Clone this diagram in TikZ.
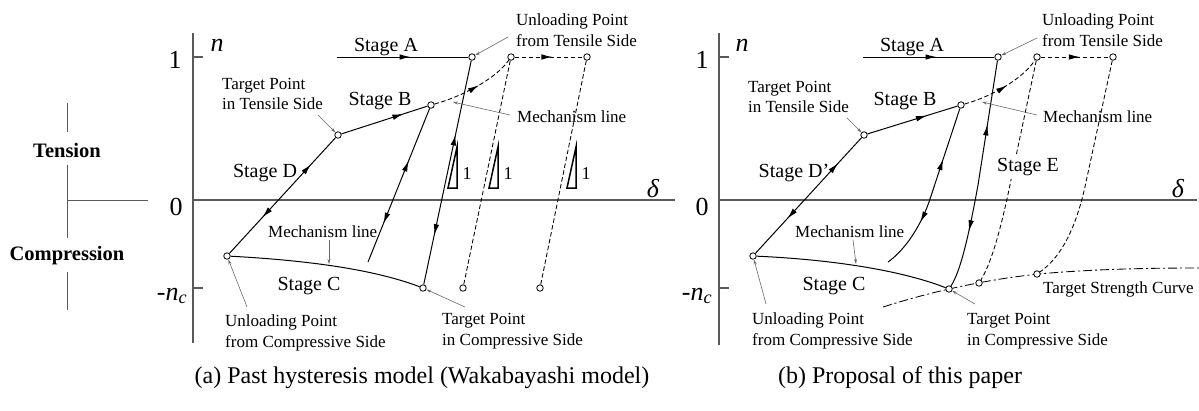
\documentclass[tikz,border=0pt]{standalone}
\usepackage{fontspec}
\setmainfont{Liberation Serif}
\usepackage{xcolor}
\usetikzlibrary{arrows.meta, decorations.markings}
\definecolor{axisgray}{RGB}{90,90,90}
\definecolor{leadgray}{RGB}{105,105,105}
\tikzset{
  axis/.style={axisgray, line width=1.3pt},
  curve/.style={black, line width=1pt},
  dashcurve/.style={black, line width=0.85pt, dash pattern=on 4.5pt off 2.5pt},
  strength/.style={black, line width=0.85pt, dash pattern=on 9pt off 3pt on 2pt off 3pt},
  leader/.style={leadgray, line width=0.6pt, -{Stealth[length=5pt,width=3pt]}},
  opendot/.style={circle, draw, line width=0.8pt, fill=white, inner sep=0pt, minimum size=6.5pt},
  fwd/.style={postaction={decorate, decoration={markings,
      mark=at position #1 with {\arrow{Latex[length=11pt,width=5.5pt]}}}}},
  twoway/.style 2 args={postaction={decorate, decoration={markings,
      mark=at position #1 with {\arrowreversed{Latex[length=11pt,width=5.5pt]}},
      mark=at position #2 with {\arrow{Latex[length=11pt,width=5.5pt]}}}}},
  stagelbl/.style={font=\fontsize{20}{24}\selectfont, inner sep=1pt},
  notelbl/.style={font=\fontsize{17}{20.5}\selectfont, align=left, anchor=west, inner sep=0pt},
  ticklbl/.style={font=\fontsize{26}{30}\selectfont, inner sep=0pt},
  varlbl/.style={font=\fontsize{26}{30}\selectfont\itshape, inner sep=0pt},
  sidelbl/.style={font=\fontsize{20.5}{24}\selectfont\bfseries, inner sep=0pt},
  slopelbl/.style={font=\fontsize{18}{20}\selectfont, inner sep=0pt},
  caplbl/.style={font=\fontsize{24}{28}\selectfont, inner sep=0pt}
}
\begin{document}
\begin{tikzpicture}[x=1pt, y=-1pt]
\useasboundingbox (0,0) rectangle (1199,410);

\draw[axisgray, line width=1pt] (67,103) -- (67,132) (67,165) -- (67,238) (67,272) -- (67,310) (67,200) -- (148,200);
\node[sidelbl] (tens) at (67,150) {Tension};
\node[sidelbl] (comp) at (67,256) {Compression};

\draw[axis] (193,33) -- (193,343);
\draw[axis] (193,200) -- (675,200);
\draw[axis] (193,57) -- (203,57) (193,288) -- (203,288);
\node[ticklbl] (one1) at (175,60) {1};
\node[ticklbl] (zero1) at (176,207) {0};
\node[ticklbl] (nc1) at (172,296) {-\textit{n}\textsubscript{\textit{c}}};
\node[varlbl] (n1) at (217,45) {n};
\node[varlbl] (del1) at (653,189) {δ};

\node[opendot] (u1) at (472,57) {};
\node[opendot] (m1) at (511,57) {};
\node[opendot] (m2) at (587,57) {};
\node[opendot] (t1) at (338,135) {};
\node[opendot] (b1) at (431,105) {};
\node[opendot] (uc1) at (227,256) {};
\node[opendot] (tc1) at (423,288) {};
\node[opendot] (d1) at (463,288) {};
\node[opendot] (d2) at (540,288) {};
\coordinate (a1) at (337,57);
\coordinate (r1) at (368,262);

\draw[curve, fwd=0.56] (a1) -- (u1);
\draw[curve, twoway={0.33}{0.78}] (u1) -- (tc1);
\draw[curve, fwd=0.72] (t1) -- (b1);
\draw[curve, twoway={0.34}{0.75}] (b1) -- (r1);
\draw[curve, twoway={0.31}{0.77}] (uc1) -- (t1);
\draw[curve] (uc1) .. controls (300,260) and (370,268) .. (tc1);
\draw[dashcurve, fwd=0.55] (b1) .. controls (460,97) and (495,80) .. (m1);
\draw[dashcurve, fwd=0.55] (m1) -- (m2);
\draw[dashcurve] (m1) -- (d1);
\draw[dashcurve] (m2) -- (d2);

\foreach \x/\k in {448/1, 489/2, 567/3}{
  \draw[line width=1.5pt] (\x,188) -- (\x+9,188) -- (\x+9,147) -- cycle;
  \node[slopelbl] (slope\k) at (\x+19,174) {1};
}

\node[stagelbl] (sa1) at (386,47) {Stage A};
\node[stagelbl] (sb1) at (380,101) {Stage B};
\node[stagelbl] (sd1) at (265,173) {Stage D};
\node[stagelbl] (sc1) at (309,286) {Stage C};

\node[notelbl] (ulab1) at (516,30) {Unloading Point\\from Tensile Side};
\coordinate (ulab1tip) at (508,37);
\draw[leader] (ulab1tip) -- (u1);
\node[notelbl] (mlab1) at (517,117) {Mechanism line};
\coordinate (mlab1s) at (510,115);
\coordinate (mlab1e) at (453,102);
\draw[leader] (mlab1s) -- (mlab1e);
\node[notelbl] (tlab1) at (222,94) {Target Point\\in Tensile Side};
\coordinate (tlab1tip) at (318,115);
\draw[leader] (tlab1tip) -- (t1);
\node[notelbl] (clab1) at (268,232) {Mechanism line};
\coordinate (clab1s) at (329,240);
\coordinate (clab1e) at (329,264);
\draw[leader] (clab1s) -- (clab1e);
\node[notelbl] (uclab1) at (225,333) {Unloading Point\\from Compressive Side};
\coordinate (uclab1tip) at (247,307);
\draw[leader] (uclab1tip) -- (uc1);
\node[notelbl] (tclab1) at (442,331) {Target Point\\in Compressive Side};
\coordinate (tclab1tip) at (465,307);
\draw[leader] (tclab1tip) -- (tc1);

\draw[axis] (719,33) -- (719,345);
\draw[axis] (719,200) -- (1197,200);
\draw[axis] (719,57) -- (729,57) (719,288) -- (729,288);
\node[ticklbl] (one2) at (702,60) {1};
\node[ticklbl] (zero2) at (702,207) {0};
\node[ticklbl] (nc2) at (697,296) {-\textit{n}\textsubscript{\textit{c}}};
\node[varlbl] (n2) at (742,45) {n};
\node[varlbl] (del2) at (1178,189) {δ};

\coordinate (s0) at (883,307);
\coordinate (s1) at (1050,273);
\coordinate (s2) at (1199,268);
\draw[strength] (s0) .. controls (930,292) and (990,278) .. (s1) .. controls (1100,269) and (1150,268) .. (s2);

\node[opendot] (u2) at (998,57) {};
\node[opendot] (m3) at (1037,57) {};
\node[opendot] (m4) at (1113,57) {};
\node[opendot] (t2) at (864,135) {};
\node[opendot] (b2) at (961,105) {};
\node[opendot] (uc2) at (753,256) {};
\node[opendot] (tc2) at (949,289) {};
\node[opendot] (e1) at (979,283) {};
\node[opendot] (e2) at (1037,274) {};
\coordinate (a2) at (863,57);
\coordinate (k1) at (978,185);
\coordinate (k2) at (931,196);
\coordinate (r2) at (888,262);
\coordinate (k3) at (1012,175);
\coordinate (k4) at (1086,182);

\draw[curve, fwd=0.56] (a2) -- (u2);
\draw[curve, twoway={0.30}{0.78}] (uc2) -- (t2);
\draw[curve, fwd=0.66] (t2) -- (b2);
\draw[curve] (uc2) .. controls (820,259) and (895,268) .. (tc2);
\draw[dashcurve, fwd=0.55] (b2) .. controls (990,97) and (1022,80) .. (m3);
\draw[dashcurve, fwd=0.57] (m3) -- (m4);
\draw[curve, twoway={0.28}{0.75}] (u2) -- (k1) .. controls (968,240) and (960,272) .. (tc2);
\draw[curve, twoway={0.31}{0.70}] (b2) -- (k2) .. controls (922,225) and (905,250) .. (r2);
\draw[dashcurve] (m3) -- (k3) .. controls (1002,225) and (992,262) .. (e1);
\draw[dashcurve] (m4) -- (k4) .. controls (1076,230) and (1060,258) .. (e2);

\node[stagelbl] (sa2) at (912,47) {Stage A};
\node[stagelbl] (sb2) at (905,101) {Stage B};
\node[stagelbl] (sd2) at (794,173) {Stage D'};
\node[stagelbl] (sc2) at (834,286) {Stage C};
\node[stagelbl, fill=white, inner sep=3pt] (se2) at (1028,167) {Stage E};

\node[notelbl] (ulab2) at (1042,30) {Unloading Point\\from Tensile Side};
\coordinate (ulab2tip) at (1037,38);
\draw[leader] (ulab2tip) -- (u2);
\node[notelbl] (mlab2) at (1043,117) {Mechanism line};
\coordinate (mlab2s) at (1037,115);
\coordinate (mlab2e) at (982,102);
\draw[leader] (mlab2s) -- (mlab2e);
\node[notelbl] (tlab2) at (748,97) {Target Point\\in Tensile Side};
\coordinate (tlab2tip) at (847,118);
\draw[leader] (tlab2tip) -- (t2);
\node[notelbl] (clab2) at (795,232) {Mechanism line};
\coordinate (clab2s) at (853,240);
\coordinate (clab2e) at (856,264);
\draw[leader] (clab2s) -- (clab2e);
\node[notelbl] (uclab2) at (752,331) {Unloading Point\\from Compressive Side};
\coordinate (uclab2tip) at (766,304);
\draw[leader] (uclab2tip) -- (uc2);
\node[notelbl] (tclab2) at (967,331) {Target Point\\in Compressive Side};
\coordinate (tclab2tip) at (975,304);
\draw[leader] (tclab2tip) -- (tc2);
\node[notelbl] (tslab) at (1043,289) {Target Strength Curve};

\node[caplbl] (capa) at (422,378) {(a) Past hysteresis model (Wakabayashi model)};
\node[caplbl] (capb) at (900,378) {(b) Proposal of this paper};
\end{tikzpicture}
\end{document}
